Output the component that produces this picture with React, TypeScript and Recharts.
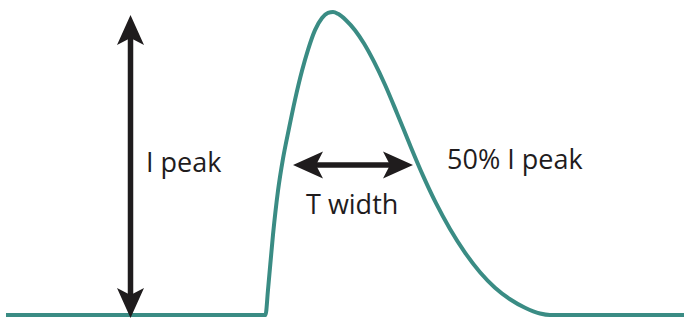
// @ts-nocheck
import { LineChart, Line, XAxis, YAxis, ReferenceLine, ReferenceDot } from 'recharts';

// time axis (one unit = 10 px of the 684 px frame), current in % of I peak
const timeAxis = [0.6, 26.55, 26.8, 27.3, 27.8, 28.3, 28.9, 29.5, 30.2, 30.8, 31.5, 32.2, 32.8, 33.3, 33.8, 34.6, 35.5, 36.4, 37.4, 38.5, 39.7, 41.0, 42.3, 43.6, 45.0, 46.5, 48.0, 49.5, 51.0, 52.5, 54.0, 55.0, 68.4];
const current = [0, 0, 8.3, 26.5, 41.0, 51.6, 61.6, 71.0, 80.6, 87.5, 94.0, 98.0, 99.7, 100, 99.4, 97.3, 94.0, 89.6, 83.6, 76.0, 66.6, 56.1, 46.0, 36.9, 28.4, 20.6, 14.1, 9.0, 5.2, 2.4, 0.5, 0, 0];

const peakArrow = { t: 13.05, from: -1, to: 99 };
const widthArrow = { level: 49.5, from: 29.3, to: 41.3 };

const labelText = ['I peak', 'T width', '50% I peak'];
const labelTime = [14.6, 30.6, 44.7];
const labelLevel = [47.2, 33.3, 48.2];

const data = timeAxis.map((t, i) => ({ t, i: current[i] }));

const ink = '#1f1c1d';

function Arrow(props) {
  const { x1, y1, x2, y2 } = props;
  const dx = x2 - x1;
  const dy = y2 - y1;
  const len = Math.sqrt(dx * dx + dy * dy) || 1;
  const ux = dx / len;
  const uy = dy / len;
  const nx = -uy;
  const ny = ux;
  const head = 30;
  const half = 13.5;
  const notch = 23;
  const headAt = (tx, ty, dir) => {
    const bx = tx - dir * ux * head;
    const by = ty - dir * uy * head;
    const mx = tx - dir * ux * notch;
    const my = ty - dir * uy * notch;
    return `${tx},${ty} ${bx + nx * half},${by + ny * half} ${mx},${my} ${bx - nx * half},${by - ny * half}`;
  };
  return (
    <g>
      <line
        x1={x1 + ux * notch}
        y1={y1 + uy * notch}
        x2={x2 - ux * notch}
        y2={y2 - uy * notch}
        stroke={ink}
        strokeWidth={5.5}
      />
      <polygon points={headAt(x1, y1, -1)} fill={ink} />
      <polygon points={headAt(x2, y2, 1)} fill={ink} />
    </g>
  );
}

function TextMark(props) {
  const { cx, cy, text } = props;
  return (
    <text x={cx} y={cy} fill={ink} fontSize={27} fontFamily="'Open Sans', sans-serif" textAnchor="start">
      {text}
    </text>
  );
}

export default function App() {
  return (
    <div style={{ position: 'absolute', left: 0, top: 0, width: 684, height: 320, background: '#fff' }}>
      <LineChart width={684} height={320} data={data} margin={{ top: 12, right: 0, bottom: 5, left: 0 }}>
        <XAxis dataKey="t" type="number" domain={[0, 68.4]} hide />
        <YAxis type="number" domain={[0, 100]} hide />
        <Line
          type="monotone"
          dataKey="i"
          stroke="#3a8c84"
          strokeWidth={4}
          dot={false}
          isAnimationActive={false}
        />
        <ReferenceLine
          segment={[
            { x: peakArrow.t, y: peakArrow.from },
            { x: peakArrow.t, y: peakArrow.to },
          ]}
          ifOverflow="visible"
          shape={(p) => <Arrow {...p} />}
        />
        <ReferenceLine
          segment={[
            { x: widthArrow.from, y: widthArrow.level },
            { x: widthArrow.to, y: widthArrow.level },
          ]}
          ifOverflow="visible"
          shape={(p) => <Arrow {...p} />}
        />
        {labelText.map((text, k) => (
          <ReferenceDot
            key={text}
            x={labelTime[k]}
            y={labelLevel[k]}
            r={0}
            ifOverflow="visible"
            shape={(p) => <TextMark {...p} text={text} />}
          />
        ))}
      </LineChart>
    </div>
  );
}
